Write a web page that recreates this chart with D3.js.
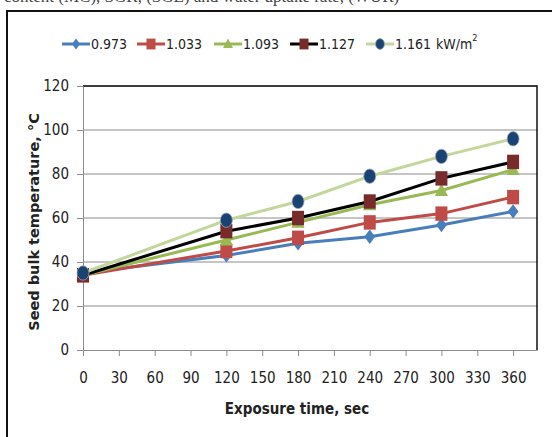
<!DOCTYPE html>
<html>
<head>
<meta charset="utf-8">
<script src="https://cdn.jsdelivr.net/npm/d3@7"></script>
<style>
  body { margin: 0; background: #fff; }
  svg { display: block; }
</style>
</head>
<body>
<div id="chart"></div>
<script>
// 数据
const times = [0, 120, 180, 240, 300, 360];
const s0973 = [35, 43, 48.5, 51.5, 56.8, 63];
const s1033 = [34, 45, 51, 58, 62, 69.5];
const s1093 = [34, 50, 58, 66, 72.5, 82];
const s1127 = [34, 54, 60, 67.5, 78, 85.5];
const s1161 = [35, 59, 67.5, 79, 88, 96];
const legendLabels = ["0.973", "1.033", "1.093", "1.127", "1.161"];
const xTicks = [0, 30, 60, 90, 120, 150, 180, 210, 240, 270, 300, 330, 360];
const yTicks = [0, 20, 40, 60, 80, 100, 120];

const series = [
    { label: legendLabels[0], values: s0973, line: "#4a7ebb", fill: "#4a7ebb", shape: "diamond" },
    { label: legendLabels[1], values: s1033, line: "#be4b48", fill: "#be4b48", shape: "square" },
    { label: legendLabels[2], values: s1093, line: "#98b954", fill: "#98b954", shape: "triangle" },
    { label: legendLabels[3], values: s1127, line: "#000000", fill: "#772b2b", shape: "square" },
    { label: legendLabels[4], values: s1161, line: "#c3d69b", fill: "#1b4372", shape: "circle" }
];

const width = 552, height = 437;
const plot = { left: 83, right: 537, top: 86, bottom: 350 };
const tickFont = "'DejaVu Sans Condensed', 'Liberation Sans Narrow', Roboto, sans-serif";

const svg = d3.select("#chart").append("svg")
    .attr("width", width)
    .attr("height", height);

// 上方被裁切的正文
svg.append("text")
    .attr("x", 4).attr("y", 2)
    .attr("font-family", "'Liberation Serif', serif")
    .attr("font-size", 17)
    .attr("fill", "#444")
    .text("content (MC), SGR, (SGE) and water uptake rate, (WUR)");

// 外框
svg.append("path")
    .attr("d", `M7,${height + 5}V11H${width + 5}`)
    .attr("fill", "none")
    .attr("stroke", "#111")
    .attr("stroke-width", 2);

const x = d3.scaleLinear().domain([0, 380]).range([plot.left, plot.right]);
const y = d3.scaleLinear().domain([0, 120]).range([plot.bottom, plot.top]);

// 网格线
svg.append("g")
    .selectAll("line")
    .data(yTicks.filter(d => d > 0))
    .join("line")
    .attr("x1", plot.left).attr("x2", plot.right)
    .attr("y1", d => y(d)).attr("y2", d => y(d))
    .attr("stroke", "#8c8c8c")
    .attr("stroke-width", 1);

// 绘图区边框 (上、右)
svg.append("path")
    .attr("d", `M${plot.left},${y(120)}H${plot.right}V${plot.bottom}`)
    .attr("fill", "none")
    .attr("stroke", "#111")
    .attr("stroke-width", 1.5);

// X轴
const xAxis = svg.append("g")
    .attr("transform", `translate(0,${plot.bottom})`)
    .call(d3.axisBottom(x).tickValues(xTicks).tickSize(6).tickPadding(16).tickSizeOuter(0));
xAxis.select(".domain").attr("stroke", "#8c8c8c");
xAxis.selectAll(".tick line").attr("stroke", "#8c8c8c");
xAxis.selectAll("text")
    .attr("font-family", tickFont)
    .attr("font-size", 15)
    .attr("fill", "#222");

// Y轴
const yAxis = svg.append("g")
    .attr("transform", `translate(${plot.left},0)`)
    .call(d3.axisLeft(y).tickValues(yTicks).tickSize(6).tickPadding(8).tickSizeOuter(0));
yAxis.select(".domain").attr("stroke", "#8c8c8c");
yAxis.selectAll(".tick line").attr("stroke", "#8c8c8c");
yAxis.selectAll("text")
    .attr("font-family", tickFont)
    .attr("font-size", 15)
    .attr("fill", "#222");

// 轴标题
svg.append("text")
    .attr("transform", `translate(39,${(plot.top + plot.bottom) / 2 + 4}) rotate(-90)`)
    .attr("text-anchor", "middle")
    .attr("font-family", "'DejaVu Sans', sans-serif")
    .attr("font-weight", "bold")
    .attr("font-size", 14.5)
    .attr("fill", "#222")
    .text("Seed bulk temperature, °C");

svg.append("text")
    .attr("x", (plot.left + plot.right) / 2 - 13)
    .attr("y", 414)
    .attr("text-anchor", "middle")
    .attr("font-family", tickFont)
    .attr("font-weight", "bold")
    .attr("font-size", 15)
    .attr("fill", "#222")
    .text("Exposure time, sec");

// 标记
function drawMarker(g, shape, cx, cy, fill, s) {
    if (shape === "circle") {
        g.append("ellipse").attr("cx", cx).attr("cy", cy)
            .attr("rx", s * 0.5).attr("ry", s * 0.6)
            .attr("fill", fill).attr("stroke", "#9aa9bd").attr("stroke-width", 0.8);
    } else if (shape === "square") {
        g.append("rect").attr("x", cx - s / 2).attr("y", cy - s * 0.6)
            .attr("width", s).attr("height", s * 1.2)
            .attr("fill", fill);
    } else if (shape === "diamond") {
        g.append("path")
            .attr("d", `M${cx},${cy - s * 0.6}L${cx + s * 0.45},${cy}L${cx},${cy + s * 0.6}L${cx - s * 0.45},${cy}Z`)
            .attr("fill", fill);
    } else if (shape === "triangle") {
        g.append("path")
            .attr("d", `M${cx},${cy - s * 0.6}L${cx + s * 0.55},${cy + s * 0.45}L${cx - s * 0.55},${cy + s * 0.45}Z`)
            .attr("fill", fill);
    }
}

const line = d3.line()
    .x((d, i) => x(times[i]))
    .y(d => y(d));

series.forEach(s => {
    svg.append("path")
        .datum(s.values)
        .attr("d", line)
        .attr("fill", "none")
        .attr("stroke", s.line)
        .attr("stroke-width", 3);
});
series.forEach(s => {
    const g = svg.append("g");
    s.values.forEach((v, i) => drawMarker(g, s.shape, x(times[i]), y(v), s.fill, 12));
});

// 图例
const legendX = [62, 137, 214, 290, 366];
const legend = svg.append("g");
series.forEach((s, i) => {
    const lx = legendX[i];
    legend.append("line")
        .attr("x1", lx).attr("x2", lx + 28)
        .attr("y1", 44).attr("y2", 44)
        .attr("stroke", s.line).attr("stroke-width", 3);
    drawMarker(legend, s.shape, lx + 14, 44, s.fill, 9);
    legend.append("text")
        .attr("x", lx + 29).attr("y", 49)
        .attr("font-family", tickFont)
        .attr("font-size", 14)
        .attr("fill", "#222")
        .text(s.label);
});
const unit = legend.append("text")
    .attr("x", 436).attr("y", 49)
    .attr("font-family", tickFont)
    .attr("font-size", 14)
    .attr("fill", "#222")
    .text("kW/m");
unit.append("tspan")
    .attr("dy", -8)
    .attr("font-size", 9)
    .text("2");
</script>
</body>
</html>
